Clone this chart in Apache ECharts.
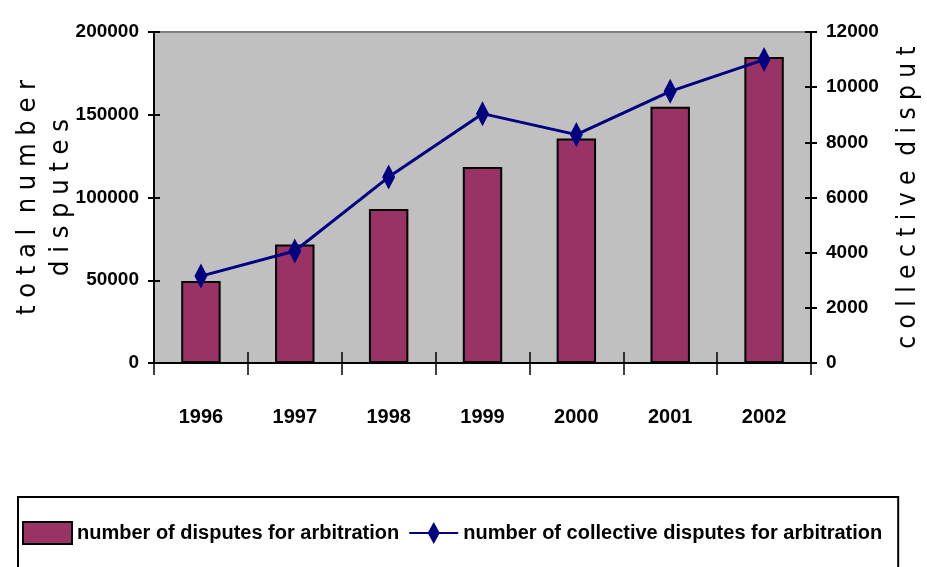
<!DOCTYPE html>
<html>
<head>
<meta charset="utf-8">
<script src="https://cdn.jsdelivr.net/npm/echarts@6/dist/echarts.min.js"></script>
<style>
html,body{margin:0;padding:0;background:#fff;}
#chart{width:927px;height:567px;}
</style>
</head>
<body>
<div id="chart"></div>
<script>
var years = ['1996', '1997', '1998', '1999', '2000', '2001', '2002'];
var arbitrationDisputes = [49600, 71600, 93000, 118400, 135600, 154900, 184900];
var collectiveDisputes = [3150, 4060, 6740, 9040, 8280, 9850, 11000];
var leftTicks = {min: 0, max: 200000, interval: 50000};
var rightTicks = {min: 0, max: 12000, interval: 2000};
var barName = 'number of disputes for arbitration';
var lineName = 'number of collective disputes for arbitration';
var leftTitle = 't o t a l  n u m b e r\nd i s p u t e s';
var rightTitle = 'c o l l e c t i v e  d i s p u t';

var boldFont = "'Liberation Sans', Arial, sans-serif";
var titleFont = "'DejaVu Sans Condensed', 'Liberation Sans', sans-serif";
var GRID = {left: 154, right: 116, top: 32, bottom: 204};
var gridW = 927 - GRID.left - GRID.right;
var gridH = 567 - GRID.top - GRID.bottom;

var chart = echarts.init(document.getElementById('chart'));
function plain(v) { return String(v); }
function tickLabel(size, margin) {
  return {color: '#000', fontFamily: boldFont, fontWeight: 'bold', fontSize: size, margin: margin, formatter: plain};
}
var tickStyle = {color: '#000', width: 2};
var xTickStyle = {color: '#000', width: 1.5};

chart.setOption({
  animation: false,
  backgroundColor: '#ffffff',
  grid: {
    left: GRID.left, right: GRID.right, top: GRID.top, bottom: GRID.bottom,
    containLabel: false, outerBoundsMode: 'none',
    show: true, backgroundColor: '#c0c0c0', borderColor: '#808080', borderWidth: 2
  },
  legend: {
    orient: 'horizontal',
    left: 18, top: 497,
    padding: [24, 16, 40, 4],
    borderColor: '#000', borderWidth: 2,
    itemWidth: 49, itemHeight: 22, itemGap: 10,
    textStyle: {color: '#000', fontFamily: boldFont, fontWeight: 'bold', fontSize: 20},
    data: [
      {name: barName, icon: 'rect'},
      {name: lineName, icon: 'path://M0,10L19,10L24.5,0L30,10L49,10L49,12L30,12L24.5,22L19,12L0,12Z',
       itemStyle: {color: '#000080', borderWidth: 0}}
    ]
  },
  xAxis: [{
    type: 'category', data: years, position: 'bottom',
    axisLine: {lineStyle: {color: '#000', width: 2}},
    axisTick: {show: true, inside: false, length: 12, lineStyle: xTickStyle},
    axisLabel: {color: '#000', fontFamily: boldFont, fontWeight: 'bold', fontSize: 20, margin: 44},
    splitLine: {show: false}
  }, {
    type: 'category', data: years, position: 'top', offset: -gridH,
    axisLine: {show: false},
    axisTick: {show: true, inside: false, length: 11, lineStyle: xTickStyle},
    axisLabel: {show: false},
    splitLine: {show: false}
  }],
  yAxis: [{
    type: 'value', position: 'left',
    min: leftTicks.min, max: leftTicks.max, interval: leftTicks.interval,
    name: leftTitle, nameLocation: 'middle', nameRotate: 90, nameGap: 77, nameMoveOverlap: false,
    nameTextStyle: {color: '#000', fontFamily: titleFont, fontSize: 27, lineHeight: 33},
    axisLine: {show: true, lineStyle: {color: '#000', width: 2}},
    axisTick: {show: true, length: 6, lineStyle: tickStyle},
    axisLabel: tickLabel(19, 15),
    splitLine: {show: false}
  }, {
    type: 'value', position: 'right',
    min: rightTicks.min, max: rightTicks.max, interval: rightTicks.interval,
    name: rightTitle, nameLocation: 'middle', nameRotate: 90, nameGap: 84, nameMoveOverlap: false,
    nameTextStyle: {color: '#000', fontFamily: titleFont, fontSize: 26},
    axisLine: {show: true, lineStyle: {color: '#000', width: 2}},
    axisTick: {show: true, length: 6, lineStyle: tickStyle},
    axisLabel: tickLabel(19, 15),
    splitLine: {show: false}
  }, {
    type: 'value', position: 'right', offset: -gridW,
    min: leftTicks.min, max: leftTicks.max, interval: leftTicks.interval,
    axisLine: {show: false},
    axisTick: {show: true, inside: false, length: 6, lineStyle: tickStyle},
    axisLabel: {show: false}, splitLine: {show: false}
  }, {
    type: 'value', position: 'left', offset: -gridW,
    min: rightTicks.min, max: rightTicks.max, interval: rightTicks.interval,
    axisLine: {show: false},
    axisTick: {show: true, inside: false, length: 6, lineStyle: tickStyle},
    axisLabel: {show: false}, splitLine: {show: false}
  }],
  series: [{
    name: barName, type: 'bar', data: arbitrationDisputes,
    xAxisIndex: 0, yAxisIndex: 0,
    barCategoryGap: '58%',
    itemStyle: {color: '#993366', borderColor: '#000', borderWidth: 2}
  }, {
    name: lineName, type: 'line', data: collectiveDisputes,
    xAxisIndex: 0, yAxisIndex: 1,
    symbol: 'diamond', symbolSize: [13, 25],
    lineStyle: {color: '#000080', width: 3},
    itemStyle: {color: '#000080'}
  }]
});
</script>
</body>
</html>
